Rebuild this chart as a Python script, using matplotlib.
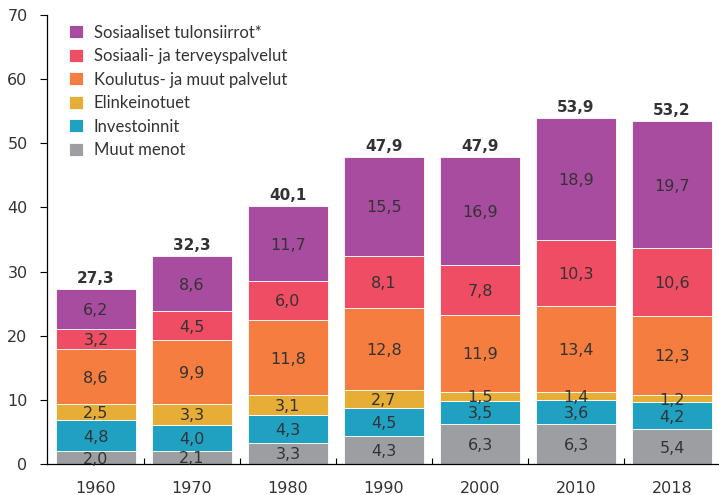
import matplotlib
matplotlib.use("Agg")
import matplotlib.pyplot as plt
import numpy as np

years = ["1960", "1970", "1980", "1990", "2000", "2010", "2018"]
series_names = ["Muut menot", "Investoinnit", "Elinkeinotuet",
                "Koulutus- ja muut palvelut", "Sosiaali- ja terveyspalvelut",
                "Sosiaaliset tulonsiirrot*"]
muut = [2.0, 2.1, 3.3, 4.3, 6.3, 6.3, 5.4]
investoinnit = [4.8, 4.0, 4.3, 4.5, 3.5, 3.6, 4.2]
elinkeino = [2.5, 3.3, 3.1, 2.7, 1.5, 1.4, 1.2]
koulutus = [8.6, 9.9, 11.8, 12.8, 11.9, 13.4, 12.3]
sosterv = [3.2, 4.5, 6.0, 8.1, 7.8, 10.3, 10.6]
tulonsiirrot = [6.2, 8.6, 11.7, 15.5, 16.9, 18.9, 19.7]
totals = [27.3, 32.3, 40.1, 47.9, 47.9, 53.9, 53.2]

colors = ["#9c9ea2", "#20a1c2", "#e6ae37", "#f47d3f", "#ef4d64", "#a84c9f"]
series = [muut, investoinnit, elinkeino, koulutus, sosterv, tulonsiirrot]

plt.rcParams['font.family'] = ['Lato', 'DejaVu Sans']
txt = "#333333"
numfont = ['DejaVu Sans']

fig = plt.figure(figsize=(7.19, 4.95), dpi=100)
ax = fig.add_axes([47/719, 31/495, 674/719, 449/495])

x = np.arange(len(years))
bottom = np.zeros(len(years))
handles = []
for name, vals, c in zip(series_names, series, colors):
    v = np.array(vals)
    b = ax.bar(x, v, 0.833, bottom=bottom, color=c, edgecolor="white",
               linewidth=0.6, label=name)
    handles.append(b)
    for xi, bi, vi in zip(x, bottom, v):
        ax.text(xi, bi + vi / 2, f"{vi:.1f}".replace(".", ","), ha="center",
                va="center_baseline", fontsize=11.5, color=txt, family=numfont)
    bottom += v

for xi, top, t in zip(x, bottom, totals):
    ax.text(xi, top + 0.95, f"{t:.1f}".replace(".", ","), ha="center",
            va="baseline", fontsize=11, fontweight="bold", color=txt,
            family=numfont)

ax.set_xlim(-0.51, 6.51)
ax.set_ylim(0, 70)
ax.set_yticks(range(0, 71, 10))
ax.set_xticks(x)
ax.set_xticklabels(years)
ax.set_xticks(np.arange(0.5, 6.5, 1), minor=True)
ax.tick_params(axis="x", which="major", length=0, pad=12, labelsize=11.5, labelcolor=txt)
ax.tick_params(axis="x", which="minor", direction="in", length=4, width=0.8)
ax.tick_params(axis="y", length=5, width=0.8, labelsize=11.5, labelcolor=txt, pad=9)
for lab in ax.get_xticklabels() + ax.get_yticklabels():
    lab.set_family(numfont)
for s in ["top", "right"]:
    ax.spines[s].set_visible(False)
for s in ["left", "bottom"]:
    ax.spines[s].set_linewidth(0.9)

leg = ax.legend(handles[::-1], series_names[::-1], loc="upper left",
                bbox_to_anchor=(0.01, 1.012), frameon=False, fontsize=12,
                handlelength=0.85, handleheight=0.85, handletextpad=0.65,
                labelspacing=0.45, labelcolor=txt)

fig.savefig("out.png", dpi=100)
